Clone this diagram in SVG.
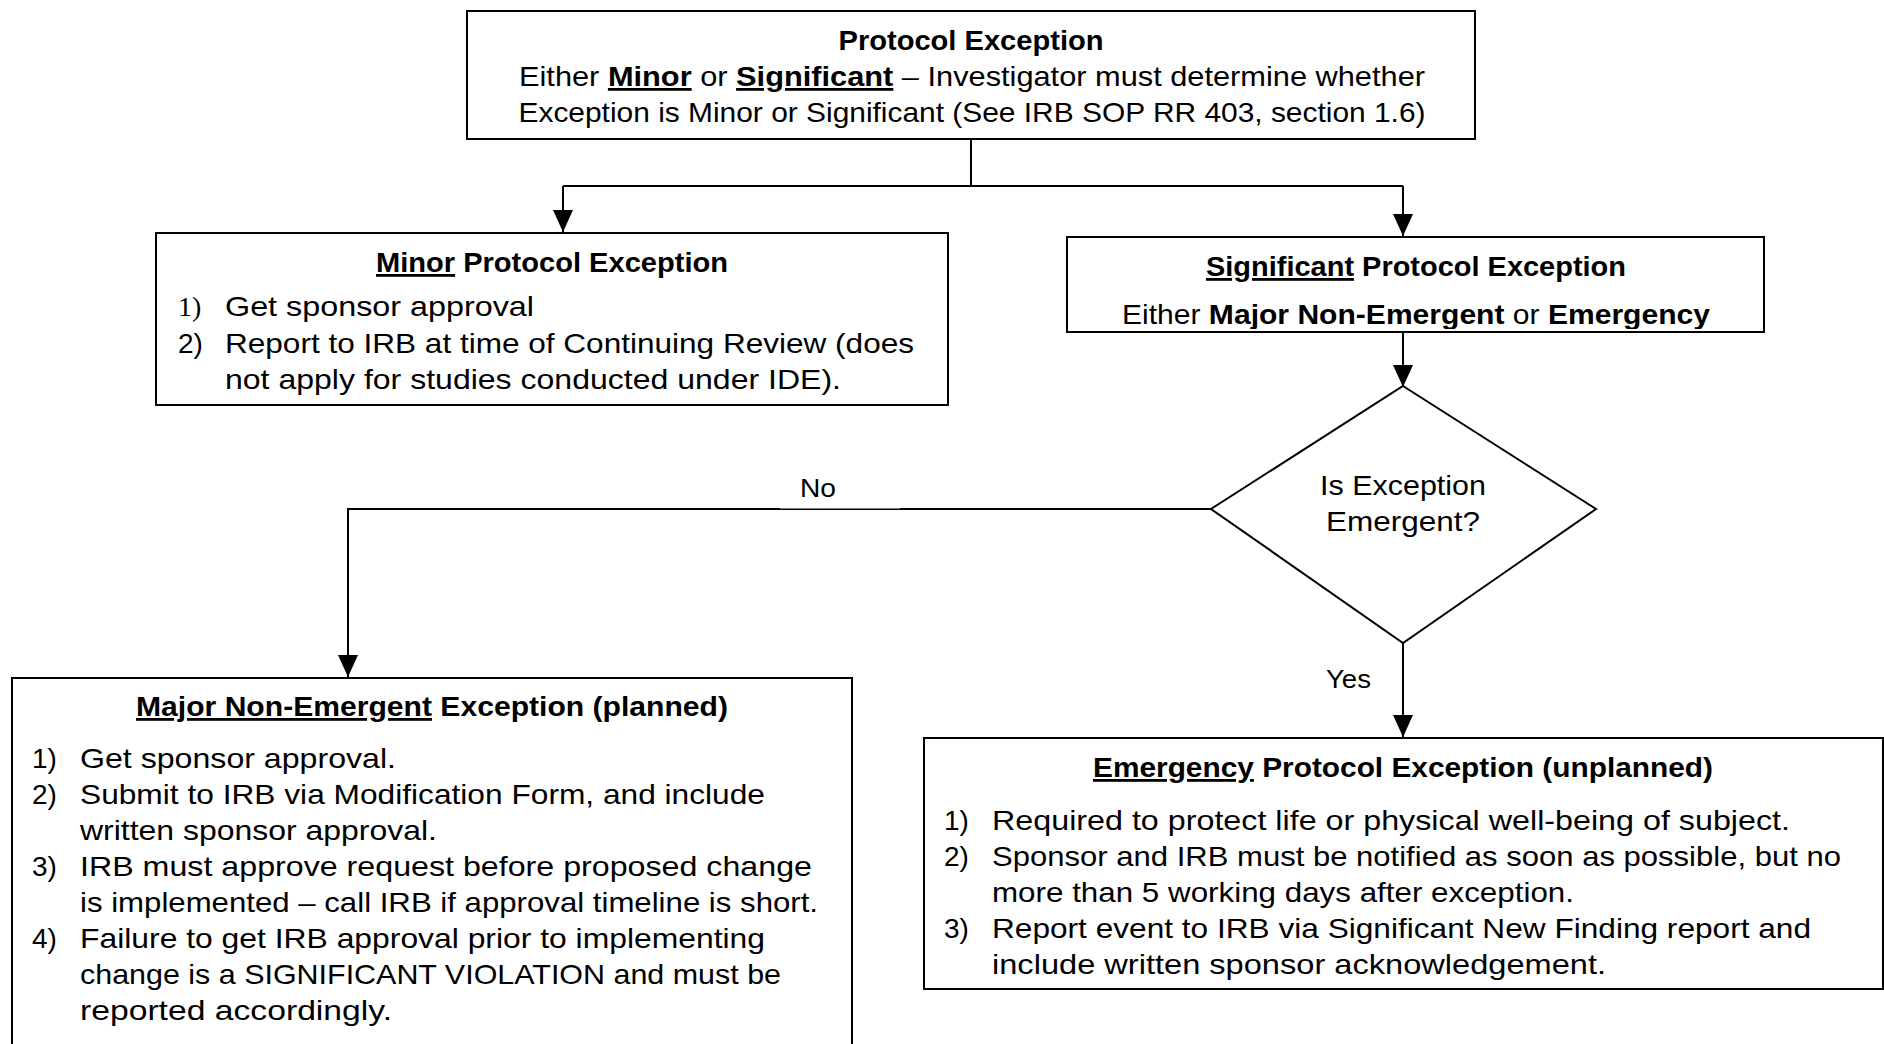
<svg xmlns="http://www.w3.org/2000/svg" width="1884" height="1044" viewBox="0 0 1884 1044">
<style>
text{font-family:"Liberation Sans",Arial,sans-serif;font-size:28px;fill:#000}
.b{font-weight:bold}
.u{text-decoration:underline;font-weight:bold}
.c{text-anchor:middle}
.box{fill:#fff;stroke:#000;stroke-width:2}
.ln{fill:none;stroke:#000;stroke-width:2}
.lbl{font-size:25px}
</style>
<defs>
<marker id="ah" markerUnits="userSpaceOnUse" markerWidth="22" markerHeight="20" viewBox="0 0 22 20" refX="22" refY="10" orient="auto">
<path d="M0,0 L22,10 L0,20 z" fill="#000"/>
</marker>
<clipPath id="sigclip"><rect x="1068" y="238" width="695" height="91"/></clipPath>
</defs>

<g id="connectors">
<path class="ln" d="M971,139 V186"/>
<path class="ln" d="M563,186 H1403"/>
<path class="ln" d="M563,186 V232" marker-end="url(#ah)"/>
<path class="ln" d="M1403,186 V236" marker-end="url(#ah)"/>
<path class="ln" d="M1403,332 V387" marker-end="url(#ah)"/>
<path class="ln" d="M1211,509 H348 V677" marker-end="url(#ah)"/>
<path class="ln" d="M1403,643 V737" marker-end="url(#ah)"/>
<rect x="780" y="499" width="120" height="9.5" fill="#fff"/>
<text class="lbl" x="800" y="497" textLength="36" lengthAdjust="spacingAndGlyphs">No</text>
<text class="lbl" x="1326" y="688" textLength="45" lengthAdjust="spacingAndGlyphs">Yes</text>
</g>

<g id="protocol-exception">
<rect class="box" x="467" y="11" width="1008" height="128"/>
<text class="c b" x="971" y="50" textLength="265" lengthAdjust="spacingAndGlyphs">Protocol Exception</text>
<text class="c" x="972" y="86" textLength="906" lengthAdjust="spacingAndGlyphs">Either <tspan class="u">Minor</tspan> or <tspan class="u">Significant</tspan> – Investigator must determine whether</text>
<text class="c" x="972" y="122" textLength="907" lengthAdjust="spacingAndGlyphs">Exception is Minor or Significant (See IRB SOP RR 403, section 1.6)</text>
</g>

<g id="minor">
<rect class="box" x="156" y="233" width="792" height="172"/>
<text class="c b" x="552" y="272" textLength="352" lengthAdjust="spacingAndGlyphs"><tspan class="u">Minor</tspan> Protocol Exception</text>
<text x="178" y="316" style="font-family:'Liberation Serif',serif">1)</text>
<text x="225" y="316" textLength="309" lengthAdjust="spacingAndGlyphs">Get sponsor approval</text>
<text x="178" y="353">2)</text>
<text x="225" y="353" textLength="689" lengthAdjust="spacingAndGlyphs">Report to IRB at time of Continuing Review (does</text>
<text x="225" y="389" textLength="616" lengthAdjust="spacingAndGlyphs">not apply for studies conducted under IDE).</text>
</g>

<g id="significant">
<rect class="box" x="1067" y="237" width="697" height="95"/>
<text class="c b" x="1416" y="276" textLength="420" lengthAdjust="spacingAndGlyphs"><tspan class="u">Significant</tspan> Protocol Exception</text>
<g clip-path="url(#sigclip)">
<text class="c" x="1416" y="324" textLength="588" lengthAdjust="spacingAndGlyphs">Either <tspan class="b">Major Non-Emergent</tspan> or <tspan class="b">Emergency</tspan></text>
</g>
</g>

<g id="decision">
<polygon class="box" points="1403,386 1596,509 1403,643 1211,509"/>
<text class="c" x="1403" y="495" textLength="166" lengthAdjust="spacingAndGlyphs">Is Exception</text>
<text class="c" x="1403" y="531" textLength="154" lengthAdjust="spacingAndGlyphs">Emergent?</text>
</g>

<g id="major">
<rect class="box" x="12" y="678" width="840" height="400"/>
<text class="c b" x="432" y="716" textLength="592" lengthAdjust="spacingAndGlyphs"><tspan class="u">Major Non-Emergent</tspan> Exception (planned)</text>
<text x="32" y="768">1)</text>
<text x="80" y="768" textLength="316" lengthAdjust="spacingAndGlyphs">Get sponsor approval.</text>
<text x="32" y="804">2)</text>
<text x="80" y="804" textLength="685" lengthAdjust="spacingAndGlyphs">Submit to IRB via Modification Form, and include</text>
<text x="80" y="840" textLength="357" lengthAdjust="spacingAndGlyphs">written sponsor approval.</text>
<text x="32" y="876">3)</text>
<text x="80" y="876" textLength="732" lengthAdjust="spacingAndGlyphs">IRB must approve request before proposed change</text>
<text x="80" y="912" textLength="738" lengthAdjust="spacingAndGlyphs">is implemented – call IRB if approval timeline is short.</text>
<text x="32" y="948">4)</text>
<text x="80" y="948" textLength="685" lengthAdjust="spacingAndGlyphs">Failure to get IRB approval prior to implementing</text>
<text x="80" y="984" textLength="701" lengthAdjust="spacingAndGlyphs">change is a SIGNIFICANT VIOLATION and must be</text>
<text x="80" y="1020" textLength="312" lengthAdjust="spacingAndGlyphs">reported accordingly.</text>
</g>

<g id="emergency">
<rect class="box" x="924" y="738" width="959" height="251"/>
<text class="c b" x="1403" y="777" textLength="620" lengthAdjust="spacingAndGlyphs"><tspan class="u">Emergency</tspan> Protocol Exception (unplanned)</text>
<text x="944" y="830">1)</text>
<text x="992" y="830" textLength="798" lengthAdjust="spacingAndGlyphs">Required to protect life or physical well-being of subject.</text>
<text x="944" y="866">2)</text>
<text x="992" y="866" textLength="849" lengthAdjust="spacingAndGlyphs">Sponsor and IRB must be notified as soon as possible, but no</text>
<text x="992" y="902" textLength="582" lengthAdjust="spacingAndGlyphs">more than 5 working days after exception.</text>
<text x="944" y="938">3)</text>
<text x="992" y="938" textLength="819" lengthAdjust="spacingAndGlyphs">Report event to IRB via Significant New Finding report and</text>
<text x="992" y="974" textLength="614" lengthAdjust="spacingAndGlyphs">include written sponsor acknowledgement.</text>
</g>
</svg>
